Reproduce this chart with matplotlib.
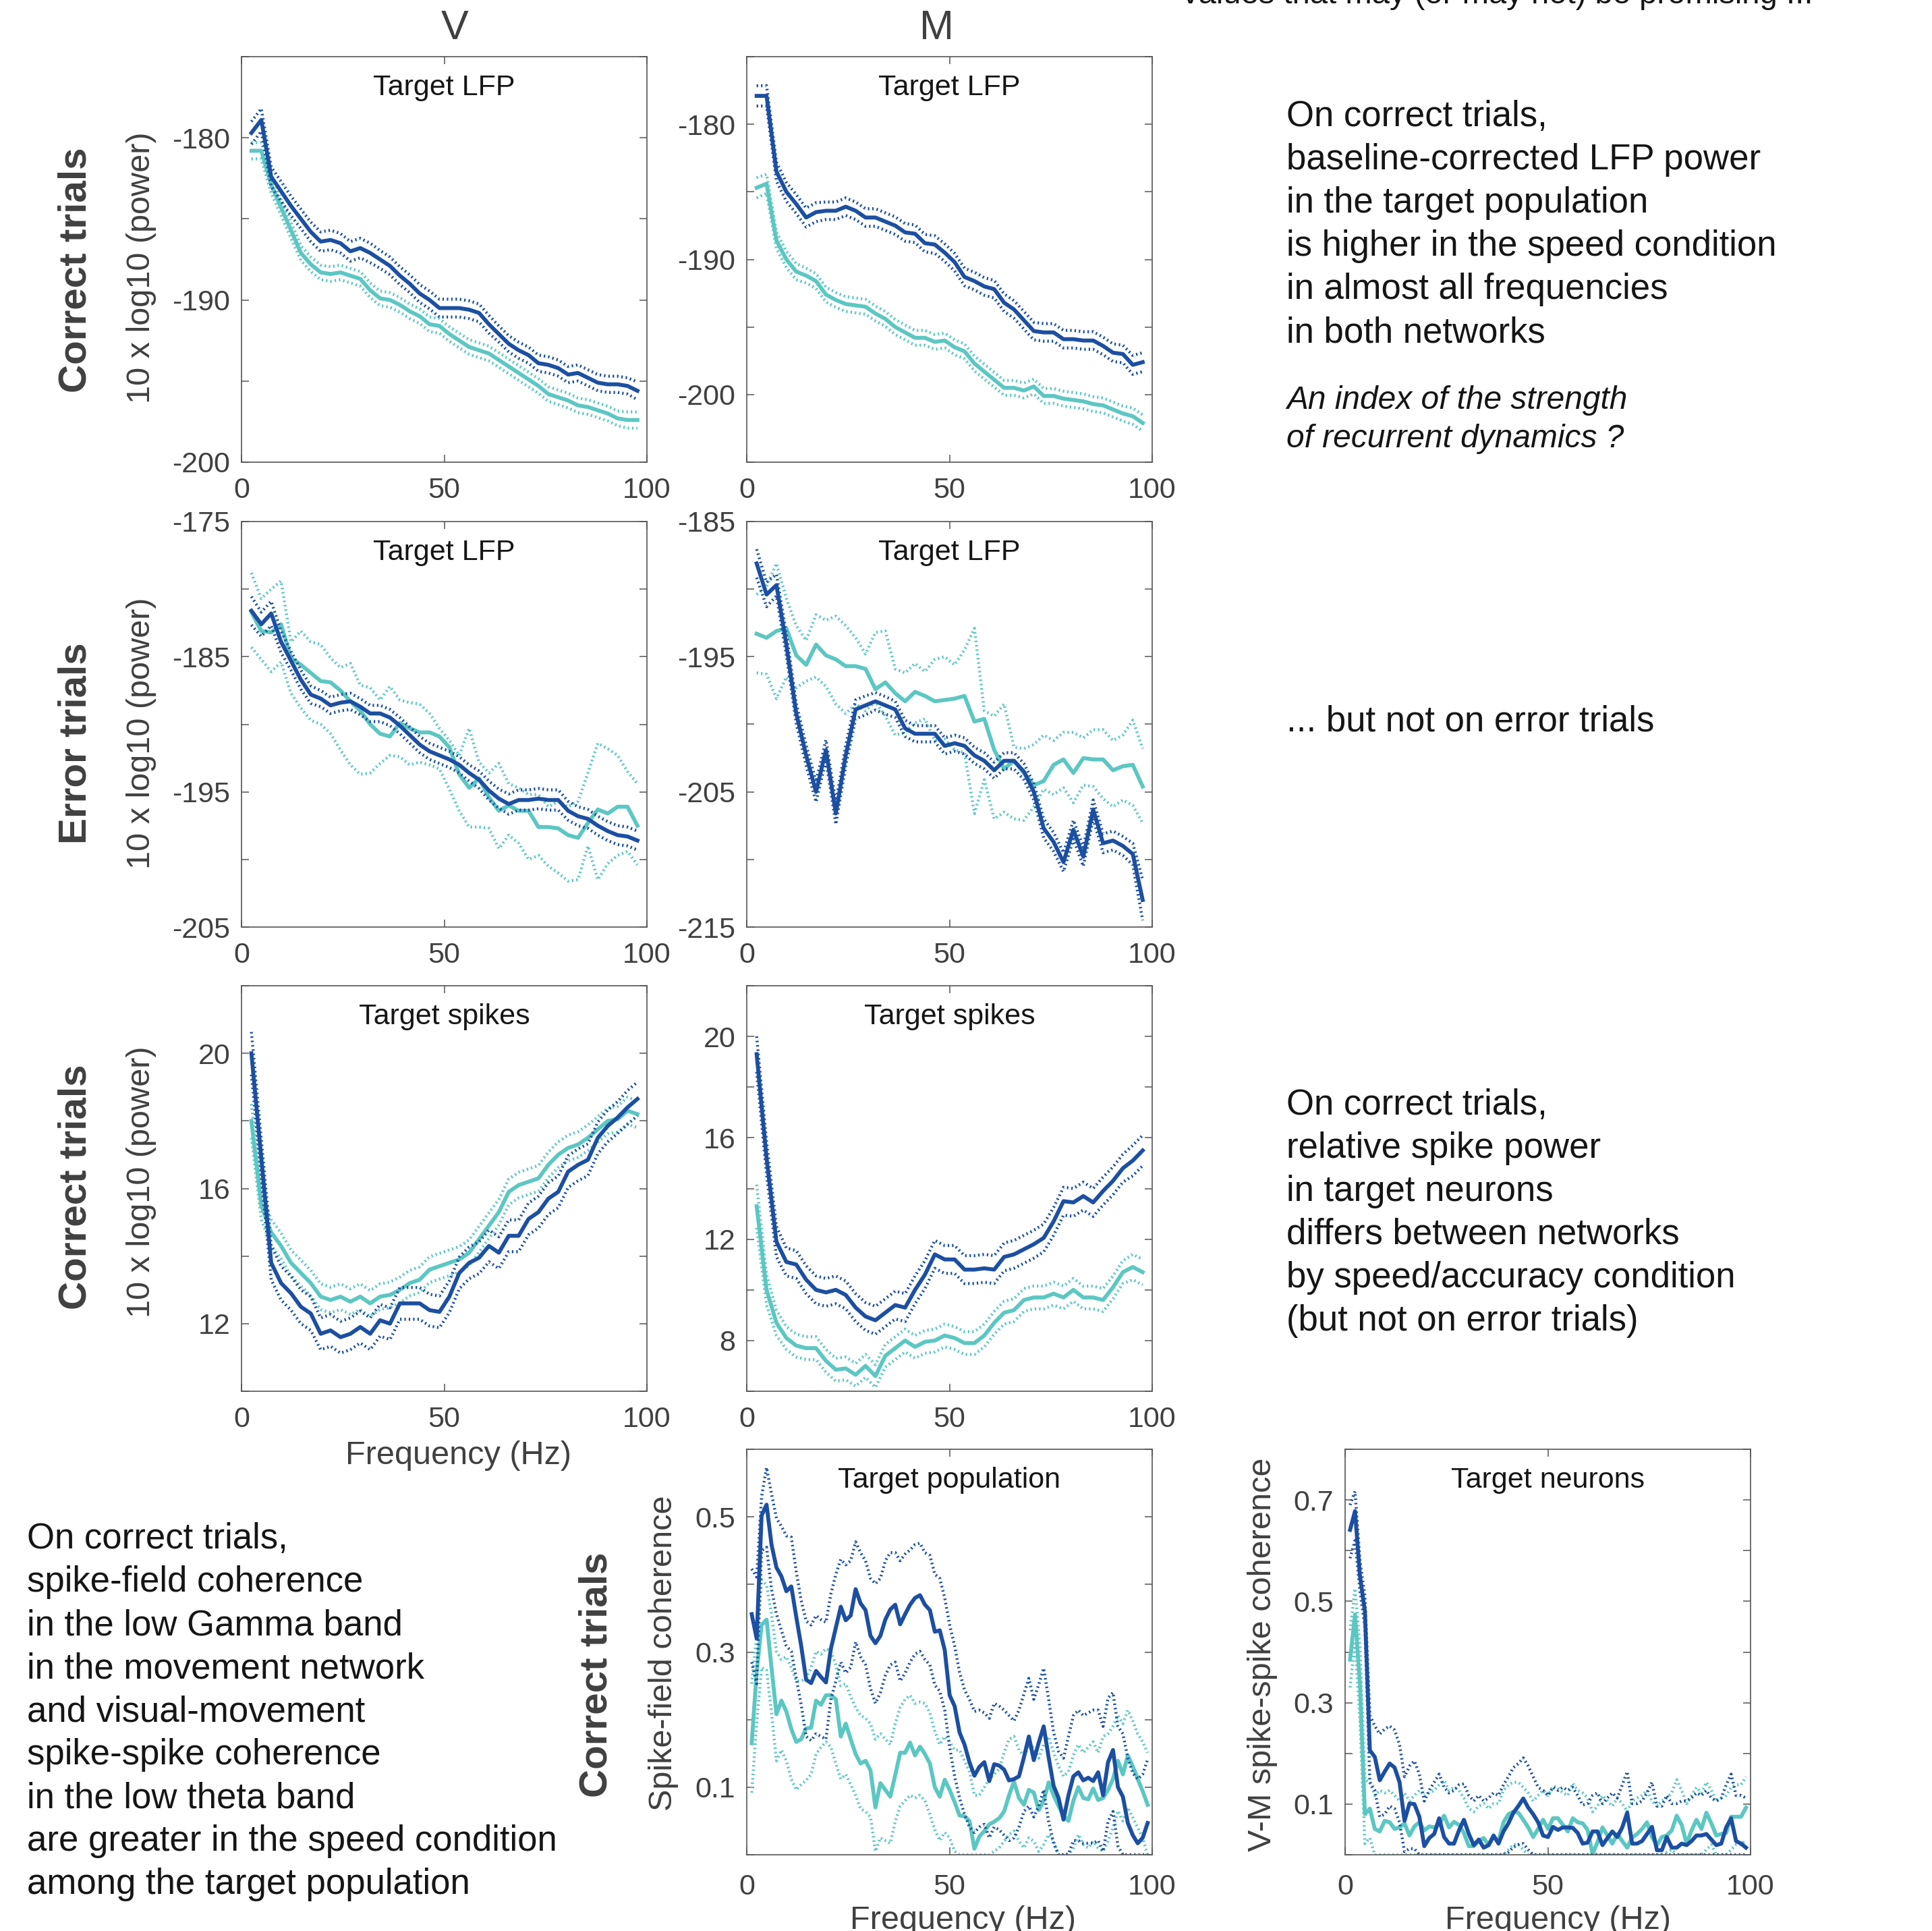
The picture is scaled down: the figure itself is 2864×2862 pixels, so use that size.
import numpy as np
import matplotlib.pyplot as plt

plt.rcParams['font.family'] = ['Liberation Sans', 'DejaVu Sans']
plt.rcParams['axes.unicode_minus'] = False

W, H = 2864, 2862

BLUE = '#1c4fa1'   # speed condition
TEAL = '#5cc7c2'   # accuracy condition
GREY = '#404040'
INK = '#151515'

# frequency bins (Hz)
freq_pow = np.arange(1, 41) * 2.4414
freq_coh = np.arange(1, 82) * 1.2207

# ---- V network, correct trials, target LFP (10 x log10 power)
v_cor_lfp_spd = [-179.7, -178.9, -182.4, -183.3, -184.2, -185.0, -185.8, -186.4, -186.3, -186.5,
                 -187.0, -186.8, -187.1, -187.5, -187.9, -188.5, -189.0, -189.6, -190.0, -190.5,
                 -190.5, -190.5, -190.6, -190.8, -191.5, -192.1, -192.7, -193.1, -193.4, -193.9,
                 -194.0, -194.2, -194.6, -194.5, -194.8, -195.1, -195.2, -195.2, -195.3, -195.6]
v_cor_lfp_spd_sem = [0.7, 0.7, 0.6, 0.6, 0.6, 0.6, 0.6, 0.6, 0.6, 0.6,
                     0.6, 0.6, 0.6, 0.55, 0.55, 0.55, 0.55, 0.55, 0.55, 0.55,
                     0.55, 0.55, 0.55, 0.55, 0.55, 0.5, 0.5, 0.5, 0.5, 0.5,
                     0.5, 0.5, 0.5, 0.5, 0.5, 0.5, 0.5, 0.5, 0.5, 0.55]
v_cor_lfp_acc = [-180.8, -180.8, -182.9, -184.3, -185.7, -187.1, -187.8, -188.3, -188.4, -188.3,
                 -188.5, -188.7, -189.4, -189.9, -190.0, -190.3, -190.7, -191.0, -191.5, -191.6,
                 -192.1, -192.5, -192.9, -193.1, -193.3, -193.7, -194.1, -194.5, -194.9, -195.3,
                 -195.8, -196.0, -196.2, -196.5, -196.6, -196.8, -197.0, -197.3, -197.4, -197.4]
v_cor_lfp_acc_sem = [0.5, 0.5, 0.5, 0.5, 0.5, 0.45, 0.45, 0.45, 0.45, 0.45,
                     0.45, 0.45, 0.45, 0.45, 0.45, 0.45, 0.45, 0.45, 0.45, 0.45,
                     0.45, 0.45, 0.45, 0.45, 0.45, 0.45, 0.45, 0.45, 0.45, 0.45,
                     0.45, 0.45, 0.45, 0.45, 0.45, 0.45, 0.45, 0.45, 0.5, 0.5]

# ---- M network, correct trials, target LFP
m_cor_lfp_spd = [-177.9, -177.9, -183.5, -185.0, -185.9, -186.9, -186.5, -186.4, -186.4, -186.1,
                 -186.4, -186.9, -186.9, -187.2, -187.5, -188.0, -188.1, -188.8, -188.9, -189.5,
                 -190.2, -191.3, -191.6, -192.0, -192.2, -193.2, -193.7, -194.5, -195.3, -195.4,
                 -195.4, -195.9, -195.9, -196.0, -196.0, -196.4, -196.9, -197.0, -197.8, -197.6]
m_cor_lfp_spd_sem = [0.75, 0.75, 0.7, 0.7, 0.7, 0.7, 0.7, 0.65, 0.65, 0.65,
                     0.65, 0.65, 0.65, 0.65, 0.65, 0.65, 0.65, 0.65, 0.65, 0.65,
                     0.65, 0.65, 0.65, 0.65, 0.65, 0.65, 0.65, 0.65, 0.65, 0.65,
                     0.65, 0.65, 0.65, 0.65, 0.65, 0.65, 0.65, 0.65, 0.7, 0.7]
m_cor_lfp_acc = [-184.7, -184.4, -188.6, -190.0, -190.9, -191.2, -191.6, -192.6, -193.0, -193.3,
                 -193.4, -193.5, -194.0, -194.4, -195.0, -195.4, -195.8, -195.8, -196.1, -196.0,
                 -196.5, -196.8, -197.7, -198.3, -198.9, -199.5, -199.5, -199.7, -199.4, -200.1,
                 -200.1, -200.3, -200.4, -200.5, -200.7, -200.8, -201.1, -201.4, -201.6, -202.1]
m_cor_lfp_acc_sem = [0.75, 0.7, 0.6, 0.6, 0.6, 0.55, 0.55, 0.55, 0.55, 0.55,
                     0.55, 0.55, 0.55, 0.55, 0.55, 0.55, 0.55, 0.55, 0.55, 0.55,
                     0.55, 0.55, 0.55, 0.55, 0.55, 0.55, 0.55, 0.55, 0.55, 0.55,
                     0.55, 0.55, 0.55, 0.55, 0.55, 0.55, 0.55, 0.55, 0.6, 0.6]

# ---- V network, error trials, target LFP
v_err_lfp_spd = [-181.6, -182.6, -181.8, -183.9, -185.3, -186.7, -187.8, -188.1, -188.6, -188.4,
                 -188.3, -188.7, -189.2, -189.2, -189.5, -190.1, -190.8, -191.5, -192.0, -192.3,
                 -192.6, -193.0, -193.6, -194.1, -194.9, -195.5, -195.9, -195.6, -195.6, -195.5,
                 -195.6, -195.6, -196.4, -196.8, -197.0, -197.5, -197.9, -198.2, -198.3, -198.6]
v_err_lfp_spd_sem = [1.05, 0.9, 0.9, 0.8, 0.7, 0.7, 0.65, 0.6, 0.6, 0.6,
                     0.6, 0.6, 0.6, 0.6, 0.6, 0.6, 0.6, 0.6, 0.6, 0.6,
                     0.6, 0.6, 0.6, 0.65, 0.7, 0.7, 0.75, 0.75, 0.75, 0.75,
                     0.75, 0.75, 0.7, 0.7, 0.7, 0.7, 0.7, 0.7, 0.7, 0.7]
v_err_lfp_acc = [-181.7, -183.1, -183.2, -182.6, -185.1, -185.6, -186.2, -186.8, -186.9, -187.5,
                 -188.3, -189.0, -190.0, -190.7, -190.9, -189.9, -190.3, -190.6, -190.6, -190.9,
                 -191.7, -193.7, -194.7, -194.0, -195.4, -196.4, -196.0, -196.4, -196.4, -197.6,
                 -197.6, -197.7, -198.2, -198.4, -197.3, -196.3, -196.6, -196.1, -196.1, -197.5]
v_err_lfp_acc_hi = [-178.8, -180.7, -180.0, -179.4, -183.9, -183.1, -183.9, -184.1, -185.1, -185.8,
                    -185.5, -187.1, -187.3, -188.2, -187.2, -188.2, -188.4, -188.5, -189.2, -190.3,
                    -191.2, -192.3, -190.3, -192.8, -193.6, -192.9, -194.4, -194.7, -195.2, -195.2,
                    -196.1, -195.7, -196.1, -195.7, -193.6, -191.4, -191.8, -192.3, -193.5, -194.4]
v_err_lfp_acc_lo = [-184.3, -185.2, -186.1, -185.4, -187.7, -188.8, -189.7, -190.0, -190.7, -191.9,
                    -193.0, -193.7, -193.6, -192.9, -192.3, -192.4, -193.0, -192.8, -193.0, -193.3,
                    -194.8, -196.4, -197.6, -197.6, -197.7, -199.2, -198.2, -198.8, -200.0, -199.7,
                    -200.5, -201.0, -201.6, -201.5, -199.0, -201.5, -200.3, -199.7, -199.4, -200.4]

# ---- M network, error trials, target LFP
m_err_lfp_spd = [-188.1, -190.4, -189.7, -194.1, -199.2, -202.3, -205.0, -201.9, -206.6, -202.3,
                 -198.9, -198.6, -198.3, -198.6, -198.9, -200.3, -200.7, -200.7, -200.7, -201.6,
                 -201.4, -201.6, -202.3, -202.7, -203.4, -202.7, -202.7, -203.5, -205.0, -207.7,
                 -208.7, -210.2, -207.8, -209.8, -206.3, -208.8, -208.6, -209.0, -209.6, -213.0]
m_err_lfp_spd_sem = [1.05, 0.9, 0.8, 0.8, 0.75, 0.75, 0.75, 0.75, 0.8, 0.75,
                     0.7, 0.7, 0.65, 0.65, 0.6, 0.6, 0.6, 0.6, 0.6, 0.6,
                     0.6, 0.6, 0.6, 0.6, 0.6, 0.6, 0.6, 0.6, 0.6, 0.7,
                     0.7, 0.7, 0.7, 0.7, 0.7, 0.7, 0.7, 0.7, 0.8, 1.5]
m_err_lfp_acc = [-193.3, -193.6, -193.1, -192.9, -194.9, -195.6, -194.1, -194.9, -195.2, -195.7,
                 -195.7, -195.9, -197.4, -196.9, -197.7, -198.3, -197.6, -197.9, -198.3, -198.2,
                 -198.1, -197.9, -199.8, -199.6, -201.9, -203.3, -202.7, -203.6, -204.5, -204.2,
                 -203.0, -202.6, -203.6, -202.5, -202.6, -202.6, -203.4, -203.1, -203.0, -204.6]
m_err_lfp_acc_hi = [-190.4, -189.8, -188.1, -190.7, -192.7, -193.8, -191.9, -192.3, -192.0, -192.7,
                    -193.6, -194.8, -193.2, -193.1, -195.9, -196.2, -195.5, -196.1, -195.2, -195.0,
                    -195.6, -194.5, -192.9, -199.0, -199.4, -198.5, -201.7, -201.8, -201.5, -200.8,
                    -201.2, -200.6, -200.6, -201.0, -200.4, -200.4, -201.2, -200.8, -199.7, -201.8]
m_err_lfp_acc_lo = [-196.2, -196.3, -198.1, -196.5, -197.3, -196.8, -196.5, -197.2, -198.5, -199.2,
                    -198.5, -199.0, -198.3, -199.4, -200.8, -200.6, -199.9, -199.6, -201.2, -201.1,
                    -201.9, -202.1, -206.6, -204.1, -207.0, -206.5, -207.0, -207.1, -206.1, -204.8,
                    -205.2, -204.7, -205.8, -204.5, -204.6, -205.5, -206.1, -205.6, -206.0, -207.3]

# ---- V network, correct trials, target spikes
v_cor_spk_spd = [20.0, 16.9, 13.8, 13.2, 12.9, 12.5, 12.3, 11.7, 11.8, 11.6,
                 11.7, 11.9, 11.7, 12.1, 12.0, 12.6, 12.6, 12.6, 12.4, 12.35,
                 12.8, 13.5, 13.8, 13.95, 14.3, 14.1, 14.6, 14.6, 15.1, 15.3,
                 15.7, 15.9, 16.5, 16.7, 16.85, 17.5, 17.85, 18.1, 18.4, 18.65]
v_cor_spk_spd_sem = [0.63, 0.55, 0.5, 0.5, 0.5, 0.5, 0.5, 0.47, 0.47, 0.47,
                     0.47, 0.47, 0.47, 0.47, 0.47, 0.47, 0.47, 0.47, 0.47, 0.47,
                     0.47, 0.47, 0.47, 0.47, 0.47, 0.47, 0.47, 0.47, 0.47, 0.47,
                     0.47, 0.47, 0.47, 0.47, 0.47, 0.47, 0.47, 0.47, 0.5, 0.5]
v_cor_spk_acc = [18.0, 15.5, 14.7, 14.3, 13.8, 13.5, 13.2, 12.8, 12.7, 12.8,
                 12.65, 12.8, 12.6, 12.8, 12.85, 13.0, 13.2, 13.3, 13.6, 13.7,
                 13.8, 13.9, 14.1, 14.5, 14.9, 15.3, 15.9, 16.1, 16.2, 16.3,
                 16.7, 17.0, 17.2, 17.3, 17.5, 17.75, 18.0, 18.05, 18.3, 18.2]
v_cor_spk_acc_sem = [0.5, 0.42, 0.38, 0.38, 0.38, 0.38, 0.38, 0.38, 0.38, 0.38,
                     0.38, 0.38, 0.38, 0.38, 0.38, 0.38, 0.38, 0.38, 0.38, 0.38,
                     0.38, 0.38, 0.38, 0.38, 0.38, 0.38, 0.38, 0.38, 0.38, 0.38,
                     0.38, 0.38, 0.38, 0.38, 0.38, 0.38, 0.38, 0.38, 0.4, 0.4]

# ---- M network, correct trials, target spikes
m_cor_spk_spd = [19.3, 15.2, 11.9, 11.1, 11.0, 10.4, 10.0, 9.9, 10.0, 9.8,
                 9.3, 8.95, 8.8, 9.1, 9.4, 9.3, 10.0, 10.6, 11.4, 11.2,
                 11.2, 10.8, 10.8, 10.85, 10.8, 11.3, 11.4, 11.6, 11.8, 12.05,
                 12.7, 13.5, 13.45, 13.7, 13.45, 13.9, 14.3, 14.8, 15.1, 15.5]
m_cor_spk_spd_sem = [0.7, 0.65, 0.6, 0.55, 0.55, 0.55, 0.55, 0.55, 0.55, 0.55,
                     0.55, 0.55, 0.55, 0.55, 0.55, 0.55, 0.55, 0.55, 0.55, 0.55,
                     0.55, 0.55, 0.55, 0.55, 0.55, 0.55, 0.55, 0.55, 0.55, 0.55,
                     0.55, 0.55, 0.55, 0.55, 0.55, 0.55, 0.55, 0.55, 0.6, 0.6]
m_cor_spk_acc = [13.3, 10.0, 8.7, 8.1, 7.8, 7.7, 7.7, 7.2, 6.85, 6.9,
                 6.65, 7.0, 6.6, 7.4, 7.7, 8.0, 7.75, 7.95, 8.0, 8.2,
                 8.1, 7.9, 7.9, 8.2, 8.7, 9.1, 9.2, 9.6, 9.7, 9.7,
                 9.85, 9.7, 10.0, 9.7, 9.7, 9.6, 10.1, 10.7, 10.9, 10.7]
m_cor_spk_acc_sem = [0.85, 0.6, 0.5, 0.45, 0.45, 0.45, 0.45, 0.45, 0.45, 0.45,
                     0.45, 0.45, 0.45, 0.45, 0.45, 0.45, 0.45, 0.45, 0.45, 0.45,
                     0.45, 0.45, 0.45, 0.45, 0.45, 0.45, 0.45, 0.45, 0.45, 0.45,
                     0.45, 0.45, 0.45, 0.45, 0.45, 0.45, 0.45, 0.45, 0.5, 0.5]

# ---- spike-field coherence, target population (M network)
sfc_spd = [0.356, 0.320, 0.502, 0.518, 0.459, 0.425, 0.412, 0.390, 0.397, 0.352,
           0.309, 0.259, 0.254, 0.272, 0.263, 0.255, 0.305, 0.336, 0.367, 0.347,
           0.354, 0.393, 0.372, 0.362, 0.324, 0.313, 0.324, 0.348, 0.363, 0.370,
           0.341, 0.356, 0.370, 0.380, 0.384, 0.370, 0.362, 0.330, 0.332, 0.303,
           0.236, 0.220, 0.181, 0.163, 0.137, 0.117, 0.130, 0.137, 0.109, 0.134,
           0.132, 0.126, 0.110, 0.112, 0.116, 0.144, 0.175, 0.140, 0.166, 0.190,
           0.144, 0.102, 0.084, 0.052, 0.088, 0.116, 0.122, 0.110, 0.114, 0.109,
           0.122, 0.088, 0.137, 0.155, 0.100, 0.086, 0.047, 0.029, 0.017, 0.025,
           0.047]
sfc_spd_hi = [0.423, 0.411, 0.530, 0.573, 0.534, 0.498, 0.486, 0.472, 0.470, 0.419,
              0.376, 0.346, 0.340, 0.354, 0.348, 0.344, 0.386, 0.415, 0.437, 0.429,
              0.435, 0.463, 0.447, 0.435, 0.409, 0.401, 0.409, 0.435, 0.447, 0.447,
              0.435, 0.445, 0.451, 0.459, 0.461, 0.447, 0.443, 0.415, 0.409, 0.380,
              0.340, 0.309, 0.270, 0.244, 0.230, 0.212, 0.214, 0.210, 0.202, 0.224,
              0.220, 0.214, 0.206, 0.198, 0.214, 0.238, 0.261, 0.230, 0.252, 0.276,
              0.230, 0.181, 0.153, 0.143, 0.175, 0.206, 0.214, 0.206, 0.210, 0.214,
              0.214, 0.190, 0.232, 0.240, 0.190, 0.179, 0.143, 0.121, 0.112, 0.119,
              0.141]
sfc_spd_lo = [0.285, 0.253, 0.450, 0.455, 0.393, 0.356, 0.332, 0.309, 0.301, 0.261,
              0.222, 0.175, 0.169, 0.179, 0.175, 0.171, 0.230, 0.257, 0.285, 0.269,
              0.277, 0.315, 0.293, 0.281, 0.246, 0.224, 0.240, 0.265, 0.281, 0.285,
              0.257, 0.269, 0.285, 0.297, 0.301, 0.289, 0.281, 0.251, 0.242, 0.214,
              0.159, 0.116, 0.084, 0.060, 0.041, 0.033, 0.041, 0.045, 0.025, 0.041,
              0.037, 0.029, 0.021, 0.025, 0.041, 0.064, 0.072, 0.056, 0.072, 0.096,
              0.049, 0.017, 0.0, 0.0, 0.001, 0.021, 0.021, 0.017, 0.017, 0.017,
              0.021, 0.005, 0.049, 0.064, 0.013, 0.0, 0.0, 0.0, 0.0, 0.0,
              0.0]
sfc_acc = [0.165, 0.270, 0.340, 0.348, 0.277, 0.208, 0.228, 0.212, 0.186, 0.167,
           0.171, 0.187, 0.188, 0.228, 0.222, 0.236, 0.236, 0.230, 0.175, 0.194,
           0.171, 0.149, 0.135, 0.139, 0.125, 0.070, 0.106, 0.096, 0.086, 0.118,
           0.151, 0.151, 0.166, 0.147, 0.160, 0.149, 0.135, 0.100, 0.086, 0.111,
           0.096, 0.078, 0.058, 0.057, 0.050, 0.009, 0.027, 0.035, 0.045, 0.049,
           0.054, 0.064, 0.088, 0.108, 0.084, 0.074, 0.096, 0.092, 0.066, 0.080,
           0.107, 0.088, 0.072, 0.058, 0.050, 0.080, 0.100, 0.084, 0.082, 0.098,
           0.081, 0.084, 0.096, 0.112, 0.139, 0.119, 0.147, 0.131, 0.112, 0.094,
           0.074]
sfc_acc_hi = [0.253, 0.324, 0.407, 0.399, 0.356, 0.301, 0.289, 0.293, 0.277, 0.257,
              0.257, 0.261, 0.277, 0.301, 0.297, 0.305, 0.301, 0.281, 0.250, 0.253,
              0.234, 0.218, 0.206, 0.202, 0.194, 0.171, 0.179, 0.171, 0.163, 0.194,
              0.218, 0.230, 0.236, 0.224, 0.226, 0.224, 0.210, 0.183, 0.163, 0.175,
              0.167, 0.155, 0.155, 0.139, 0.123, 0.088, 0.088, 0.100, 0.112, 0.119,
              0.127, 0.151, 0.171, 0.175, 0.155, 0.147, 0.159, 0.159, 0.143, 0.163,
              0.175, 0.151, 0.131, 0.116, 0.123, 0.147, 0.163, 0.151, 0.159, 0.167,
              0.151, 0.175, 0.179, 0.190, 0.206, 0.194, 0.214, 0.198, 0.179, 0.167,
              0.151]
sfc_acc_lo = [0.092, 0.194, 0.277, 0.273, 0.210, 0.139, 0.155, 0.139, 0.112, 0.096,
              0.104, 0.110, 0.119, 0.149, 0.159, 0.167, 0.159, 0.135, 0.112, 0.119,
              0.104, 0.088, 0.068, 0.064, 0.056, 0.005, 0.025, 0.021, 0.017, 0.049,
              0.072, 0.080, 0.088, 0.084, 0.088, 0.080, 0.060, 0.037, 0.021, 0.033,
              0.025, 0.005, 0.0, 0.0, 0.0, 0.0, 0.0, 0.0, 0.0, 0.005,
              0.010, 0.020, 0.030, 0.035, 0.020, 0.010, 0.025, 0.020, 0.005, 0.015,
              0.030, 0.020, 0.0, 0.0, 0.0, 0.010, 0.030, 0.015, 0.010, 0.020,
              0.010, 0.005, 0.020, 0.040, 0.065, 0.050, 0.070, 0.055, 0.040, 0.025,
              0.0]

# ---- V-M spike-spike coherence, target neurons
ssc_spd = [0.641, 0.678, 0.550, 0.480, 0.206, 0.193, 0.147, 0.164, 0.180, 0.172,
           0.143, 0.067, 0.101, 0.100, 0.075, 0.017, 0.033, 0.041, 0.072, 0.035,
           0.022, 0.022, 0.048, 0.069, 0.041, 0.019, 0.030, 0.014, 0.019, 0.038,
           0.022, 0.046, 0.062, 0.083, 0.096, 0.111, 0.093, 0.080, 0.064, 0.038,
           0.035, 0.055, 0.049, 0.054, 0.054, 0.053, 0.043, 0.022, 0.024, 0.046,
           0.046, 0.019, 0.033, 0.046, 0.035, 0.054, 0.083, 0.022, 0.022, 0.027,
           0.041, 0.055, 0.009, 0.009, 0.035, 0.014, 0.014, 0.022, 0.019, 0.027,
           0.038, 0.038, 0.041, 0.030, 0.019, 0.022, 0.054, 0.072, 0.027, 0.022,
           0.014]
ssc_spd_hi = [0.690, 0.717, 0.580, 0.510, 0.275, 0.254, 0.238, 0.248, 0.254, 0.246,
              0.217, 0.154, 0.175, 0.185, 0.159, 0.106, 0.127, 0.143, 0.159, 0.133,
              0.122, 0.127, 0.138, 0.140, 0.117, 0.106, 0.117, 0.106, 0.112, 0.122,
              0.117, 0.138, 0.154, 0.172, 0.180, 0.191, 0.175, 0.154, 0.133, 0.127,
              0.117, 0.133, 0.127, 0.133, 0.127, 0.133, 0.117, 0.098, 0.101, 0.117,
              0.122, 0.101, 0.112, 0.122, 0.112, 0.138, 0.164, 0.101, 0.101, 0.106,
              0.122, 0.143, 0.096, 0.096, 0.117, 0.101, 0.101, 0.106, 0.106, 0.112,
              0.122, 0.117, 0.127, 0.112, 0.106, 0.112, 0.138, 0.159, 0.117, 0.117,
              0.112]
ssc_spd_lo = [0.585, 0.620, 0.520, 0.450, 0.143, 0.127, 0.075, 0.080, 0.096, 0.091,
              0.064, 0.006, 0.012, 0.012, 0.0, 0.0, 0.0, 0.0, 0.0, 0.0,
              0.0, 0.0, 0.0, 0.0, 0.0, 0.0, 0.0, 0.0, 0.0, 0.0,
              0.0, 0.0, 0.005, 0.015, 0.020, 0.022, 0.010, 0.0, 0.0, 0.0,
              0.0, 0.0, 0.0, 0.0, 0.0, 0.0, 0.0, 0.0, 0.0, 0.0,
              0.0, 0.0, 0.0, 0.0, 0.0, 0.0, 0.0, 0.0, 0.0, 0.0,
              0.0, 0.0, 0.0, 0.0, 0.0, 0.0, 0.0, 0.0, 0.0, 0.0,
              0.0, 0.0, 0.0, 0.0, 0.0, 0.0, 0.0, 0.0, 0.0, 0.0,
              0.0]
ssc_acc = [0.385, 0.474, 0.337, 0.080, 0.091, 0.051, 0.046, 0.067, 0.064, 0.051,
           0.054, 0.062, 0.038, 0.056, 0.064, 0.048, 0.056, 0.054, 0.059, 0.077,
           0.054, 0.065, 0.059, 0.043, 0.017, 0.017, 0.027, 0.033, 0.019, 0.035,
           0.027, 0.064, 0.080, 0.085, 0.083, 0.069, 0.054, 0.035, 0.051, 0.069,
           0.051, 0.072, 0.072, 0.059, 0.046, 0.072, 0.064, 0.062, 0.049, 0.001,
           0.025, 0.054, 0.038, 0.022, 0.041, 0.027, 0.014, 0.034, 0.041, 0.051,
           0.064, 0.035, 0.019, 0.035, 0.038, 0.048, 0.077, 0.059, 0.022, 0.048,
           0.069, 0.051, 0.083, 0.062, 0.038, 0.041, 0.043, 0.075, 0.075, 0.075,
           0.093]
ssc_acc_hi = [0.443, 0.525, 0.411, 0.148, 0.143, 0.117, 0.127, 0.122, 0.127, 0.117,
              0.106, 0.122, 0.106, 0.117, 0.127, 0.117, 0.122, 0.127, 0.138, 0.146,
              0.127, 0.133, 0.127, 0.112, 0.091, 0.085, 0.096, 0.101, 0.091, 0.101,
              0.101, 0.127, 0.138, 0.143, 0.143, 0.133, 0.122, 0.106, 0.117, 0.127,
              0.117, 0.135, 0.133, 0.122, 0.117, 0.141, 0.127, 0.122, 0.112, 0.085,
              0.096, 0.117, 0.106, 0.096, 0.112, 0.101, 0.085, 0.106, 0.112, 0.117,
              0.127, 0.106, 0.096, 0.106, 0.112, 0.122, 0.148, 0.127, 0.101, 0.117,
              0.133, 0.122, 0.143, 0.127, 0.106, 0.112, 0.117, 0.133, 0.138, 0.138,
              0.154]
ssc_acc_lo = [0.330, 0.421, 0.264, 0.022, 0.033, 0.0, 0.0, 0.0, 0.0, 0.0,
              0.0, 0.0, 0.0, 0.0, 0.0, 0.0, 0.0, 0.0, 0.0, 0.0,
              0.0, 0.0, 0.0, 0.0, 0.0, 0.0, 0.0, 0.0, 0.0, 0.0,
              0.0, 0.0, 0.010, 0.020, 0.020, 0.010, 0.0, 0.0, 0.0, 0.0,
              0.0, 0.0, 0.0, 0.0, 0.0, 0.0, 0.0, 0.0, 0.0, 0.0,
              0.0, 0.0, 0.0, 0.0, 0.0, 0.0, 0.0, 0.0, 0.0, 0.0,
              0.0, 0.0, 0.0, 0.0, 0.005, 0.010, 0.0, 0.0, 0.0, 0.0,
              0.0, 0.0, 0.010, 0.020, 0.0, 0.0, 0.0, 0.010, 0.020, 0.020,
              0.030]

# ---- tick labels
x_ticks = [0, 50, 100]
x_ticklabels = ['0', '50', '100']

# ---- text
col_headers = ['V', 'M']
row_labels = ['Correct trials', 'Error trials', 'Correct trials', 'Correct trials']
top_note = 'values that may (or may not) be promising ...'
note_lfp = ['On correct trials,', 'baseline-corrected LFP power', 'in the target population',
            'is higher in the speed condition', 'in almost all frequencies', 'in both networks']
note_lfp_italic = ['An index of the strength', 'of recurrent dynamics ?']
note_err = '... but not on error trials'
note_spk = ['On correct trials,', 'relative spike power', 'in target neurons',
            'differs between networks', 'by speed/accuracy condition', '(but not on error trials)']
note_coh = ['On correct trials,', 'spike-field coherence', 'in the low Gamma band',
            'in the movement network', 'and visual-movement', 'spike-spike coherence',
            'in the low theta band', 'are greater in the speed condition',
            'among the target population']


fig = plt.figure(figsize=(W / 100, H / 100), dpi=100)


def fx(px):
    return px / W


def fy(px):
    return 1 - px / H


def with_sem(mean, sem):
    m = np.array(mean)
    s = np.array(sem)
    return m, m - s, m + s


def panel(left, top, title, f, spd, acc, ylim, ystep, ylabel_every, xpad=16):
    ax = fig.add_axes([fx(left), fy(top + 601), 601 / W, 601 / H])
    # accuracy (teal) first, speed (blue) on top
    for (m, lo, hi), c in ((acc, TEAL), (spd, BLUE)):
        ax.plot(f, lo, color=c, lw=3.2, ls=(0, (0.5, 0.95)))
        ax.plot(f, hi, color=c, lw=3.2, ls=(0, (0.5, 0.95)))
        ax.plot(f, m, color=c, lw=4.2)
    ax.set_xlim(0, 100)
    ax.set_ylim(*ylim)
    ax.set_xticks(x_ticks)
    ax.set_xticklabels(x_ticklabels)
    yt = np.arange(ylim[0], ylim[1] + ystep / 2, ystep)
    ax.set_yticks(yt)
    ax.set_yticklabels([('%g' % v) if v in ylabel_every else '' for v in np.round(yt, 3)])
    ax.tick_params(direction='in', length=8, width=1.1, color='#555555',
                   labelsize=31, labelcolor=GREY, top=True, right=True)
    ax.tick_params(axis='x', pad=xpad)
    ax.tick_params(axis='y', pad=12)
    for s in ax.spines.values():
        s.set_color('#555555')
        s.set_linewidth(1.2)
    ax.text(0.5, 1 - 57 / 601, title, transform=ax.transAxes, ha='center',
            va='baseline', fontsize=31, color=INK)
    return ax


f = freq_pow
panel(358, 84, 'Target LFP', f, with_sem(v_cor_lfp_spd, v_cor_lfp_spd_sem),
      with_sem(v_cor_lfp_acc, v_cor_lfp_acc_sem), (-200, -175), 5, [-200, -190, -180])
panel(1107, 84, 'Target LFP', f, with_sem(m_cor_lfp_spd, m_cor_lfp_spd_sem),
      with_sem(m_cor_lfp_acc, m_cor_lfp_acc_sem), (-205, -175), 5, [-200, -190, -180])
panel(358, 773, 'Target LFP', f, with_sem(v_err_lfp_spd, v_err_lfp_spd_sem),
      (v_err_lfp_acc, v_err_lfp_acc_lo, v_err_lfp_acc_hi), (-205, -175), 5,
      [-205, -195, -185, -175])
panel(1107, 773, 'Target LFP', f, with_sem(m_err_lfp_spd, m_err_lfp_spd_sem),
      (m_err_lfp_acc, m_err_lfp_acc_lo, m_err_lfp_acc_hi), (-215, -185), 5,
      [-215, -205, -195, -185])
panel(358, 1461, 'Target spikes', f, with_sem(v_cor_spk_spd, v_cor_spk_spd_sem),
      with_sem(v_cor_spk_acc, v_cor_spk_acc_sem), (10, 22), 2, [12, 16, 20])
panel(1107, 1461, 'Target spikes', f, with_sem(m_cor_spk_spd, m_cor_spk_spd_sem),
      with_sem(m_cor_spk_acc, m_cor_spk_acc_sem), (6, 22), 2, [8, 12, 16, 20])
panel(1107, 2148, 'Target population', freq_coh, (sfc_spd, sfc_spd_lo, sfc_spd_hi),
      (sfc_acc, sfc_acc_lo, sfc_acc_hi), (0, 0.6), 0.1, [0.1, 0.3, 0.5], xpad=20)
panel(1994, 2148, 'Target neurons', freq_coh, (ssc_spd, ssc_spd_lo, ssc_spd_hi),
      (ssc_acc, ssc_acc_lo, ssc_acc_hi), (0, 0.8), 0.1, [0.1, 0.3, 0.5, 0.7], xpad=20)

# column headers
fig.text(fx(674), fy(42), col_headers[0], ha='center', va='center', fontsize=44, color=GREY)
fig.text(fx(1388), fy(42), col_headers[1], ha='center', va='center', fontsize=44, color=GREY)

# row labels (bold) and y labels
for (x, y), lab in zip([(113, 400), (113, 1102), (113, 1759), (884, 2482)], row_labels):
    fig.text(fx(x), fy(y), lab, rotation=90, ha='center', va='center', fontsize=42,
             fontweight='bold', color=GREY)
for (x, y), lab in zip([(210, 397), (210, 1087), (210, 1752), (983, 2450), (1872, 2452)],
                       ['10 x log10 (power)'] * 3 + ['Spike-field coherence',
                                                      'V-M spike-spike coherence']):
    fig.text(fx(x), fy(y), lab, rotation=90, ha='center', va='center', fontsize=35, color=GREY)

# x labels
for x, y in [(680, 2170), (1428, 2859), (2309, 2859)]:
    fig.text(fx(x), fy(y), 'Frequency (Hz)', ha='center', va='baseline', fontsize=35, color=GREY)

# notes
fig.text(fx(1753), fy(5), top_note, ha='left', va='baseline', fontsize=34, color=INK)
for i, line in enumerate(note_lfp):
    fig.text(fx(1907), fy(187 + 64 * i), line, ha='left', va='baseline', fontsize=38, color=INK)
for i, line in enumerate(note_lfp_italic):
    fig.text(fx(1907), fy(606 + 57 * i), line, ha='left', va='baseline', fontsize=34.5,
             style='italic', color=INK)
fig.text(fx(1907), fy(1084), note_err, ha='left', va='baseline', fontsize=38, color=INK)
for i, line in enumerate(note_spk):
    fig.text(fx(1907), fy(1652 + 64 * i), line, ha='left', va='baseline', fontsize=38, color=INK)
for i, line in enumerate(note_coh):
    fig.text(fx(40), fy(2295 + 64 * i), line, ha='left', va='baseline', fontsize=38, color=INK)

fig.savefig('out.png', dpi=100, facecolor='white')
